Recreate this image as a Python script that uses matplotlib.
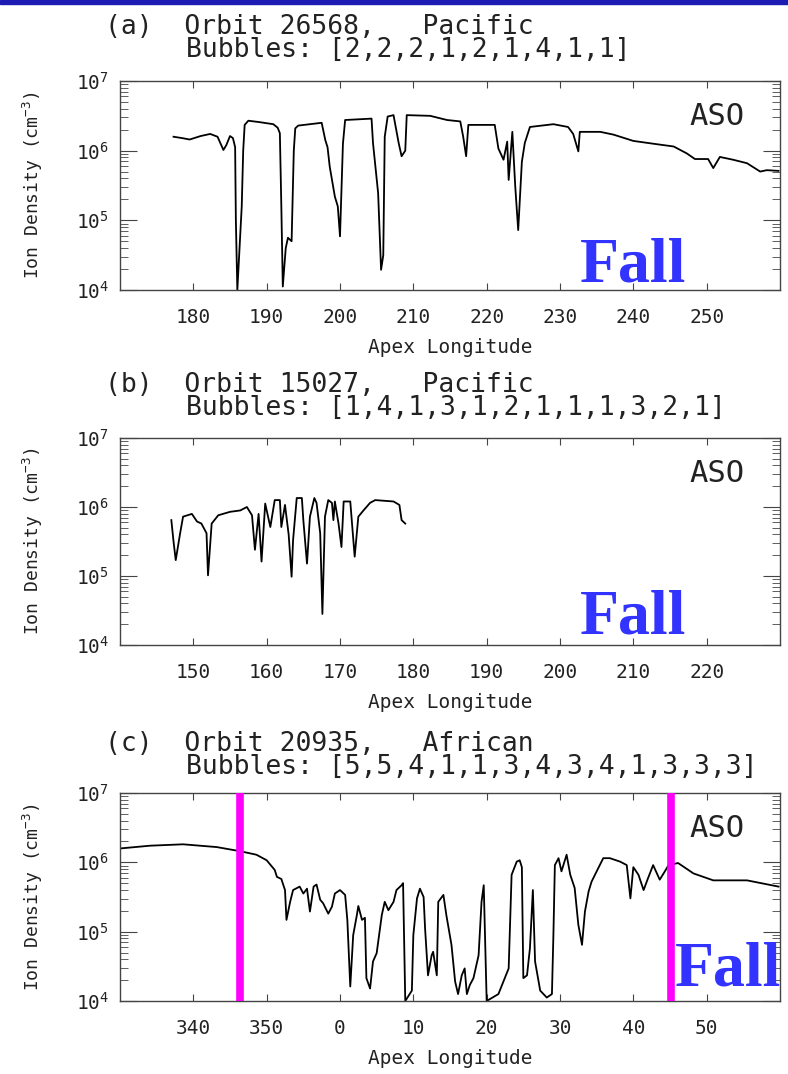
import numpy as np
import matplotlib
matplotlib.use("Agg")
import matplotlib.pyplot as plt
from matplotlib.ticker import NullLocator, NullFormatter, FuncFormatter
from matplotlib.patches import Rectangle

plt.rcParams['font.family'] = ['DejaVu Sans Mono', 'DejaVu Sans']
plt.rcParams['mathtext.fontset'] = 'custom'
plt.rcParams['mathtext.rm'] = 'DejaVu Sans Mono'
plt.rcParams['mathtext.it'] = 'DejaVu Sans Mono'
plt.rcParams['text.color'] = '#222222'
plt.rcParams['axes.labelcolor'] = '#222222'
plt.rcParams['xtick.labelcolor'] = '#222222'
plt.rcParams['ytick.labelcolor'] = '#222222'

# ---- panel (a): orbit 26568, Pacific (apex longitude, log10 ion density)
lon_a = [177.3, 178.5, 179.5, 181.0, 182.3, 183.3, 184.1, 184.5, 185.0, 185.4, 185.7, 185.8,
         186.0, 186.3, 186.6, 186.8, 187.0, 187.5, 189.0, 190.9, 191.5, 191.8, 192.0, 192.2,
         192.6, 192.9, 193.4, 193.7, 193.9, 194.3, 197.5, 198.0, 198.3, 198.6, 199.3, 199.7,
         200.0, 200.4, 200.7, 204.3, 204.5, 205.2, 205.6, 205.9, 206.1, 206.5, 207.3, 208.0,
         208.4, 208.9, 209.1, 212.3, 214.6, 216.4, 216.8, 217.2, 217.5, 221.1, 221.6, 222.3,
         222.8, 223.0, 223.5, 223.9, 224.3, 224.8, 225.2, 225.9, 229.1, 231.1, 231.8, 232.5,
         232.7, 233.9, 235.5, 237.3, 240.0, 242.7, 245.5, 247.3, 248.4, 250.2, 250.9, 251.8,
         253.6, 255.5, 257.3, 258.2, 259.8]
logn_a = [6.20, 6.18, 6.16, 6.21, 6.24, 6.20, 6.01, 6.08, 6.21, 6.18, 6.05, 5.0,
          4.0, 4.6, 5.2, 6.0, 6.37, 6.43, 6.41, 6.38, 6.33, 6.25, 5.2, 4.05,
          4.6, 4.75, 4.7, 6.0, 6.32, 6.36, 6.40, 6.15, 6.05, 5.77, 5.34, 5.2,
          4.77, 6.1, 6.44, 6.46, 6.11, 5.39, 4.29, 4.5, 6.2, 6.49, 6.51, 6.11,
          5.92, 6.0, 6.51, 6.50, 6.44, 6.42, 6.2, 5.92, 6.37, 6.37, 6.03, 5.87,
          6.13, 5.58, 6.27, 5.48, 4.86, 5.84, 6.11, 6.34, 6.38, 6.34, 6.24, 5.99,
          6.27, 6.27, 6.27, 6.23, 6.14, 6.10, 6.06, 5.96, 5.88, 5.88, 5.75, 5.91,
          5.87, 5.82, 5.70, 5.72, 5.71]

# ---- panel (b): orbit 15027, Pacific
lon_b = [147.0, 147.3, 147.6, 148.2, 148.6, 149.8, 150.5, 151.1, 151.8, 152.0, 152.5, 153.4,
         155.0, 156.4, 157.3, 158.0, 158.4, 158.9, 159.3, 159.8, 160.5, 161.1, 161.8, 162.0,
         162.5, 163.0, 163.4, 163.6, 164.1, 164.8, 165.0, 165.5, 165.9, 166.5, 166.8, 167.3,
         167.6, 167.95, 168.4, 168.9, 169.1, 169.3, 169.8, 170.2, 170.5, 171.4, 172.0, 172.5,
         173.2, 174.1, 174.8, 177.3, 178.1, 178.4, 178.9]
logn_b = [5.81, 5.5, 5.23, 5.62, 5.86, 5.90, 5.79, 5.76, 5.62, 5.01, 5.76, 5.88,
          5.93, 5.95, 6.00, 5.88, 5.38, 5.90, 5.21, 6.05, 5.71, 6.10, 6.10, 5.71,
          6.03, 5.6, 4.99, 5.52, 6.13, 6.13, 5.81, 5.18, 5.86, 6.13, 6.06, 5.62,
          4.45, 5.86, 6.10, 6.06, 5.81, 6.08, 5.76, 5.42, 6.08, 6.08, 5.28, 5.86,
          5.95, 6.06, 6.10, 6.08, 6.03, 5.81, 5.76]

# ---- panel (c): orbit 20935, African (longitudes past 360 wrap to 0..60)
lon_c = [330.0, 334.1, 338.6, 343.2, 346.4, 348.6, 350.0, 351.1, 351.4, 352.0, 352.5, 352.7,
         353.2, 353.6, 354.5, 355.0, 355.5, 355.9, 356.4, 356.8, 357.3, 357.7, 358.4, 358.9,
         359.3, 360.0, 360.7, 361.0, 361.4, 361.8, 362.3, 362.5, 363.0, 363.4, 363.6, 364.1,
         364.5, 365.0, 365.7, 366.1, 366.6, 367.3, 367.7, 368.4, 368.6, 368.9, 369.8, 370.0,
         370.5, 370.9, 371.4, 371.6, 372.0, 372.5, 372.7, 373.2, 373.4, 374.1, 374.5, 375.2,
         375.7, 376.1, 376.6, 377.0, 377.3, 377.7, 378.2, 378.9, 379.3, 379.6, 380.0, 381.6,
         383.0, 383.4, 384.1, 384.5, 384.8, 385.0, 385.5, 385.9, 386.3, 386.6, 387.3, 388.2,
         388.9, 389.1, 389.3, 389.8, 390.2, 390.9, 391.4, 392.0, 392.5, 393.0, 393.4, 393.9,
         394.3, 395.0, 395.9, 396.8, 398.2, 399.1, 399.6, 400.0, 400.7, 401.4, 402.0, 402.7,
         403.6, 404.3, 404.8, 406.1, 408.2, 410.9, 415.5, 419.8]
logn_c = [6.20, 6.24, 6.26, 6.22, 6.16, 6.11, 6.03, 5.89, 5.79, 5.76, 5.60, 5.17,
          5.43, 5.60, 5.65, 5.55, 5.62, 5.29, 5.65, 5.68, 5.46, 5.41, 5.26, 5.36,
          5.55, 5.60, 5.53, 5.17, 4.21, 4.95, 5.24, 5.37, 5.17, 5.20, 4.33, 4.18,
          4.57, 4.69, 5.24, 5.43, 5.31, 5.43, 5.60, 5.67, 5.70, 4.0, 4.15, 4.95,
          5.48, 5.62, 5.50, 5.05, 4.37, 4.66, 4.71, 4.37, 5.43, 5.53, 5.24, 4.81,
          4.28, 4.10, 4.37, 4.47, 4.10, 4.23, 4.33, 4.66, 5.43, 5.67, 4.0, 4.1,
          4.47, 5.82, 6.01, 6.03, 5.93, 4.33, 4.37, 4.76, 5.60, 4.57, 4.15, 4.05,
          4.10, 4.95, 5.96, 6.06, 5.87, 6.11, 5.82, 5.63, 5.10, 4.81, 5.29, 5.58,
          5.72, 5.87, 6.06, 6.06, 6.01, 5.96, 5.48, 5.93, 5.82, 5.60, 5.77, 5.96,
          5.75, 5.87, 5.96, 5.99, 5.84, 5.74, 5.74, 5.65]
season_bounds_c = [346.4, 405.2]

titles = ["(a)  Orbit 26568,   Pacific", "(b)  Orbit 15027,   Pacific", "(c)  Orbit 20935,   African"]
bubbles = ["Bubbles: [2,2,2,1,2,1,4,1,1]",
           "Bubbles: [1,4,1,3,1,2,1,1,1,3,2,1]",
           "Bubbles: [5,5,4,1,1,3,4,3,4,1,3,3,3]"]
xlims = [(170, 260), (140, 230), (330, 420)]
xticks = [range(180, 251, 10), range(150, 221, 10), range(340, 411, 10)]

W, H = 788, 1074
fig = plt.figure(figsize=(W / 100, H / 100), dpi=100)
fig.patches.append(Rectangle((0, 1 - 4 / H), 1, 4 / H, transform=fig.transFigure,
                             color='#1c1cb4', zorder=0))

# axes boxes in pixels: (top, bottom)
boxes = [(81, 290), (438, 645), (793, 1001)]
title_y = [(34, 57), (392, 415), (751, 774)]
fall_xy = [(580, 282), (580, 633), (675, 985)]
data = [(lon_a, logn_a), (lon_b, logn_b), (lon_c, logn_c)]

for i in range(3):
    top, bot = boxes[i]
    ax = fig.add_axes([120 / W, 1 - bot / H, 660 / W, (bot - top) / H])
    lon, logn = data[i]
    ax.plot(lon, 10 ** np.array(logn), color='black', lw=1.3)
    ax.set_yscale('log')
    ax.set_ylim(1e4, 1e7)
    ax.set_xlim(*xlims[i])
    ax.set_xticks(list(xticks[i]))
    ax.xaxis.set_minor_locator(NullLocator())
    ax.yaxis.set_minor_formatter(NullFormatter())
    if i == 2:
        ax.xaxis.set_major_formatter(FuncFormatter(lambda v, p: "%d" % (int(round(v)) % 360)))
        for b in season_bounds_c:
            ax.axvline(b, color='#ff00ff', lw=5.5, zorder=5)
    ax.tick_params(axis='x', which='major', direction='in', length=5, top=True,
                   pad=13, labelsize=14, color='#444444')
    ax.tick_params(axis='y', which='major', direction='in', length=12, right=True,
                   pad=8, labelsize=14, color='#444444')
    ax.tick_params(axis='y', which='minor', direction='in', length=6, right=True,
                   color='#444444')
    for s in ax.spines.values():
        s.set_color('#444444')
        s.set_linewidth(1.0)
    ax.set_xlabel("Apex Longitude", fontsize=14, labelpad=8)
    ax.set_ylabel("Ion Density (cm$^{-3}$)", fontsize=13)
    ax.yaxis.set_label_coords(-0.114, 0.5)
    ax.text(0.947, 0.789, "ASO", transform=ax.transAxes, ha='right', va='baseline',
            fontsize=22)

    ty1, ty2 = title_y[i]
    fig.text(105 / W, 1 - ty1 / H, titles[i], fontsize=19, va='baseline', ha='left')
    fig.text(186 / W, 1 - ty2 / H, bubbles[i], fontsize=19, va='baseline', ha='left')

    fx, fy = fall_xy[i]
    fig.text(fx / W, 1 - fy / H, "Fall", fontsize=46, fontweight='bold',
             family='Liberation Serif', color='#3333ff', va='baseline', ha='left',
             zorder=10)

fig.savefig("out.png", dpi=100)
